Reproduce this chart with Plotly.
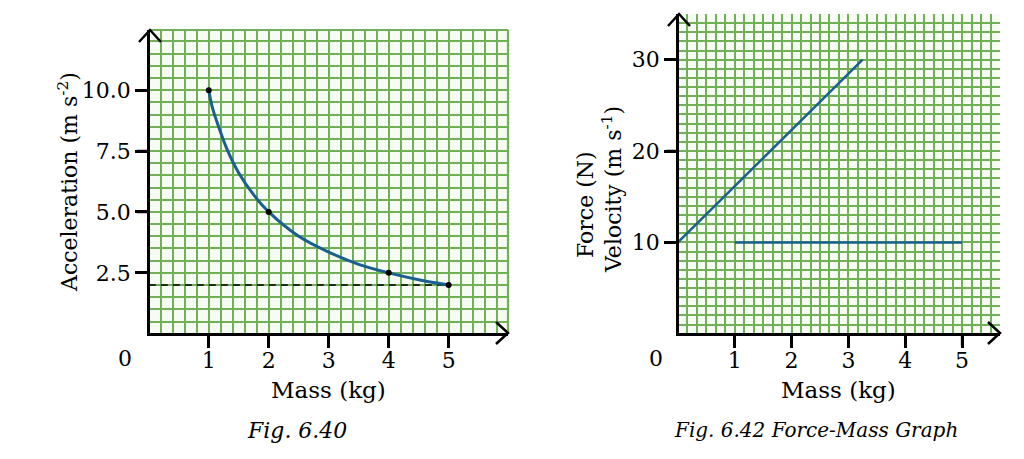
import plotly.graph_objects as go

# ---------------- data ----------------
# Fig. 6.40 : acceleration vs mass
mass_pts = [1, 2, 4, 5]
accel_pts = [10.0, 5.0, 2.5, 2.0]
mass_curve = [1, 1.03, 1.07, 1.15, 1.3, 1.5, 1.75, 2, 2.5, 3, 3.5, 4, 4.5, 5]
accel_curve = [10.0, 9.6, 9.2, 8.6, 7.6, 6.6, 5.7, 5.0, 4.0, 3.35, 2.85, 2.5, 2.22, 2.0]
dash_x = [0, 5]
dash_y = [2.0, 2.0]
left_xticks = [1, 2, 3, 4, 5]
left_yticks = [2.5, 5.0, 7.5, 10.0]

# Fig. 6.42 : force / velocity vs mass
force_x = [0, 3.25]
force_y = [10, 30]
vel_x = [1, 5]
vel_y = [10, 10]
right_xticks = [1, 2, 3, 4, 5]
right_yticks = [10, 20, 30]

FONT = "DejaVu Serif"
GRID = "#72b058"
CELL = "#f6fcf3"
LINE = "#1b5f8e"

W, H = 1024, 459
def px_x(p): return p / W
def px_y(p): return (H - p) / H

L_XD, L_XR = [px_x(150), px_x(508)], [0.02, 5.99]
L_YD, L_YR = [px_y(333), px_y(30)], [0.03, 12.47]
R_XD, R_XR = [px_x(679), px_x(1000)], [0.02, 34 / 6]
R_YD, R_YR = [px_y(333), px_y(14)], [0.08, 35]

def to_paper(v, dom, rng):
    return dom[0] + (v - rng[0]) / (rng[1] - rng[0]) * (dom[1] - dom[0])

fig = go.Figure()

fig.add_trace(go.Scatter(x=dash_x, y=dash_y, mode="lines",
                         line=dict(color="black", width=1.5, dash="7px,5px"),
                         xaxis="x", yaxis="y", showlegend=False))
fig.add_trace(go.Scatter(x=mass_curve, y=accel_curve, mode="lines",
                         line=dict(color=LINE, width=3, shape="spline", smoothing=0.8),
                         xaxis="x", yaxis="y", showlegend=False))
fig.add_trace(go.Scatter(x=mass_pts, y=accel_pts, mode="markers",
                         marker=dict(color="black", size=6),
                         xaxis="x", yaxis="y", showlegend=False))

fig.add_trace(go.Scatter(x=force_x, y=force_y, mode="lines",
                         line=dict(color=LINE, width=2.5),
                         xaxis="x2", yaxis="y2", showlegend=False))
fig.add_trace(go.Scatter(x=vel_x, y=vel_y, mode="lines",
                         line=dict(color=LINE, width=2.5),
                         xaxis="x2", yaxis="y2", showlegend=False))

tickfont = dict(family=FONT, size=22, color="black")

def axis(dom, rng, anchor, dt, mdt, gw, fmt=None):
    d = dict(domain=dom, range=rng, anchor=anchor, automargin=False,
             tickmode="linear", tick0=0, dtick=dt,
             showline=True, linecolor="black", linewidth=2.5,
             ticks="outside", ticklen=12, tickwidth=2.5, tickcolor="black",
             tickfont=tickfont, showgrid=True, gridcolor=GRID, gridwidth=gw,
             minor=dict(tick0=0, dtick=mdt, showgrid=True, gridcolor=GRID, gridwidth=gw, ticks=""),
             zeroline=False, fixedrange=True)
    if fmt:
        d["tickformat"] = fmt
    return d

fig.update_layout(
    width=W, height=H, margin=dict(l=0, r=0, t=0, b=0, autoexpand=False),
    paper_bgcolor="white", plot_bgcolor=CELL, showlegend=False,
    xaxis=axis(L_XD, L_XR, "y", 1, 0.2, 2.2),
    yaxis=axis(L_YD, L_YR, "x", 2.5, 0.5, 2.2, fmt=".1f"),
    xaxis2=axis(R_XD, R_XR, "y2", 1, 1 / 6, 1.8),
    yaxis2=axis(R_YD, R_YR, "x2", 10, 1, 1.8),
)

try:
    fig.update_layout(xaxis_ticklabelstandoff=-6, xaxis2_ticklabelstandoff=-6)
except Exception:
    pass

# closing grid lines at the far edges of the left grid (decoration)
fig.add_shape(type="line", xref="x domain", yref="y domain", x0=1, x1=1, y0=0, y1=1,
              line=dict(color=GRID, width=2.2), layer="below")
fig.add_shape(type="line", xref="x domain", yref="y domain", x0=0, x1=1, y0=1, y1=1,
              line=dict(color=GRID, width=2.2), layer="below")

# tick marks as path shapes, placed through each axis' domain/range mapping
def tick_path(segments):
    return " ".join(f"M {a:.5f},{b:.5f} L {c:.5f},{d:.5f}" for a, b, c, d in segments)

def xtick_segments(vals, dom, rng):
    segs = []
    for v in vals:
        xp = to_paper(v, dom, rng)
        segs.append((xp, px_y(333), xp, px_y(346)))
    return segs

def ytick_segments(vals, dom, rng, x_axis_px):
    segs = []
    for v in vals:
        yp = to_paper(v, dom, rng)
        segs.append((px_x(x_axis_px - 13), yp, px_x(x_axis_px), yp))
    return segs

all_ticks = (xtick_segments(left_xticks, L_XD, L_XR)
             + ytick_segments(left_yticks, L_YD, L_YR, 150)
             + xtick_segments(right_xticks, R_XD, R_XR)
             + ytick_segments(right_yticks, R_YD, R_YR, 679))
fig.add_shape(type="path", xref="paper", yref="paper", path=tick_path(all_ticks),
              line=dict(color="black", width=2.5))

# arrowheads on the axes (decoration, paper coordinates)
def chevron(pts):
    path = "M " + " L ".join(f"{px_x(a):.5f},{px_y(b):.5f}" for a, b in pts)
    fig.add_shape(type="path", xref="paper", yref="paper", path=path,
                  line=dict(color="black", width=2.5))

chevron([(139, 42), (150, 30), (161, 42)])
chevron([(496, 322), (508, 333), (496, 344)])
chevron([(668, 26), (679, 14), (690, 26)])
chevron([(988, 322), (1000, 333), (988, 344)])

def note(x, y, text, size=22, angle=0, italic=False):
    f = dict(family=FONT, size=size, color="black")
    if italic:
        text = "<i>" + text + "</i>"
    fig.add_annotation(x=x, y=y, xref="paper", yref="paper", text=text, showarrow=False,
                       font=f, textangle=angle, xanchor="center", yanchor="middle")

note(px_x(125), px_y(358), "0")
note(px_x(656), px_y(358), "0")
note(px_x(328), px_y(390), "Mass (kg)", size=23)
note(px_x(838), px_y(390), "Mass (kg)", size=23)
note(px_x(68), px_y(182), "Acceleration (m s<sup>-2</sup>)", angle=-90, size=22)
note(px_x(585), px_y(205), "Force (N)", angle=-90, size=22)
note(px_x(612), px_y(190), "Velocity (m s<sup>-1</sup>)", angle=-90, size=22)
note(px_x(297), px_y(430), "Fig. 6.40", size=22, italic=True)
note(px_x(816), px_y(430), "Fig. 6.42 Force-Mass Graph", size=20, italic=True)

fig.write_html("out.html")
